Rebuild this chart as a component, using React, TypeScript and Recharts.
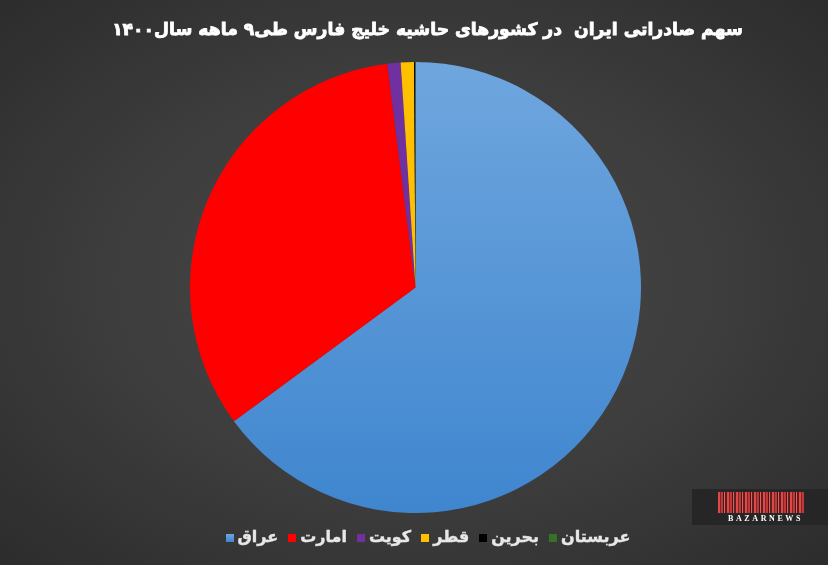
import React from "react";
import { PieChart, Pie, Cell, Legend } from "recharts";

const countries = ["عراق", "امارت", "کویت", "قطر", "بحرین", "عربستان"];
const shares = [64.9, 33.1, 0.95, 0.95, 0.08, 0.02];
const colors = ["url(#blueGrad)", "#ff0000", "#7030a0", "#ffc000", "#000000", "#38702a"];
const legendColors = ["#5b9bd5", "#ff0000", "#7030a0", "#ffc000", "#000000", "#38702a"];
const title = "سهم صادراتی ایران  در کشورهای حاشیه خلیج فارس طی۹ ماهه سال۱۴۰۰";

const data = countries.map((name, i) => ({ name, value: shares[i] }));

const W = 828;
const H = 565;

export default function App() {
  const legendPayload = countries.map((name, i) => ({
    value: name,
    type: "square" as const,
    id: name,
    color: legendColors[i],
  }));
  return (
    <div
      style={{
        position: "fixed",
        left: 0,
        top: 0,
        width: W,
        height: H,
        background: "radial-gradient(ellipse at 50% 50%, #4a4a4a 0%, #3c3c3c 55%, #2c2c2c 100%)",
        fontFamily: "'DejaVu Sans', sans-serif",
        overflow: "hidden",
      }}
    >
      <div
        style={{
          position: "absolute",
          top: 19,
          left: 0,
          width: W,
          textAlign: "center",
          color: "#ffffff",
          fontWeight: "bold",
          fontSize: 17.2,
          direction: "rtl",
          whiteSpace: "pre",
          paddingLeft: 27,
          boxSizing: "border-box",
          WebkitTextStroke: "0.8px #ffffff",
        }}
      >
        {title}
      </div>
      <PieChart width={W} height={H} margin={{ top: 0, right: 0, bottom: 0, left: 0 }}>
        <defs>
          <linearGradient id="blueGrad" x1="0" y1="0" x2="0" y2="1">
            <stop offset="0%" stopColor="#6fa6de" />
            <stop offset="100%" stopColor="#3f86cf" />
          </linearGradient>
        </defs>
        <Pie
          data={data}
          dataKey="value"
          nameKey="name"
          cx={415.5}
          cy={287.5}
          outerRadius={225.5}
          startAngle={90}
          endAngle={-270}
          stroke="none"
          isAnimationActive={false}
        >
          {data.map((d, i) => (
            <Cell key={d.name} fill={colors[i]} />
          ))}
        </Pie>
        <Legend
          payload={legendPayload}
          itemSorter={(item: any) => countries.indexOf(item.value)}
          iconSize={8}
          iconType="square"
          layout="horizontal"
          align="center"
          verticalAlign="middle"
          wrapperStyle={{ top: 527, left: 0, width: W, paddingLeft: 19 }}
          formatter={(value: string) => (
            <span style={{ color: "#e8e8e8", fontWeight: "bold", fontSize: 16, WebkitTextStroke: "0.4px #e8e8e8" }}>{value}</span>
          )}
        />
      </PieChart>
      <div
        style={{
          position: "absolute",
          left: 692,
          top: 489,
          width: 136,
          height: 36,
          background: "#262626",
        }}
      >
        <div
          style={{
            position: "absolute",
            left: 26,
            top: 3,
            width: 86,
            height: 21,
            background:
              "repeating-linear-gradient(90deg, #e04848 0px, #e04848 2px, #7a2a2a 2px, #7a2a2a 3px, #c03838 3px, #c03838 5px, #3a1a1a 5px, #3a1a1a 6px, #f05a5a 6px, #f05a5a 7px, #5a2020 7px, #5a2020 9px)",
          }}
        />
        <div
          style={{
            position: "absolute",
            left: 36,
            top: 26,
            width: 80,
            color: "#ffffff",
            fontSize: 8,
            lineHeight: "8px",
            fontWeight: "bold",
            letterSpacing: 2.6,
            fontFamily: "'Liberation Serif', serif",
          }}
        >
          BAZARNEWS
        </div>
      </div>
    </div>
  );
}
